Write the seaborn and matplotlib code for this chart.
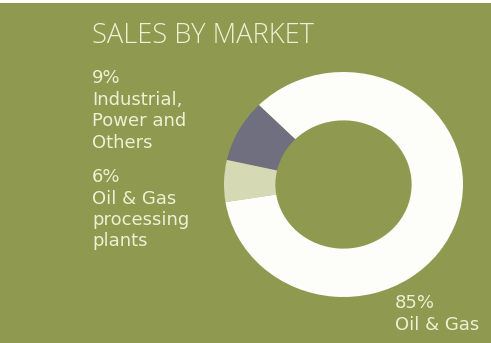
import matplotlib
matplotlib.use("Agg")
import matplotlib.pyplot as plt
import seaborn as sns

# Market split of sales, in percent
segments = ["Industrial, Power and Others", "Oil & Gas processing plants", "Oil & Gas"]
shares = [9, 6, 85]
pcts = ["9%", "6%", "85%"]
label_lines = [["Industrial,", "Power and", "Others"],
               ["Oil & Gas", "processing", "plants"],
               ["Oil & Gas"]]
title = "SALES BY MARKET"

sns.set_theme(style="white")
plt.rcParams["font.family"] = ["Open Sans", "DejaVu Sans"]

BG = "#8f9a50"
TXT = "#eef0d4"
colors = ["#6f6f80", "#d5dab4", "#fdfdf9"]

W, H = 491, 343
fig = plt.figure(figsize=(W / 100, H / 100), dpi=100, facecolor="white")

# olive panel behind everything, with a thin pale strip at the top
panel = fig.add_axes([0, 0, 1, (H - 3) / H])
panel.set_axis_off()
panel.add_patch(plt.Rectangle((0, 0), 1, 1, transform=panel.transAxes,
                              facecolor=BG, edgecolor="none"))

# donut ring
x0, x1, y0, y1 = 224, 463, 72, 297
ax = fig.add_axes([x0 / W, 1 - y1 / H, (x1 - x0) / W, (y1 - y0) / H])
ax.pie(shares, colors=colors, startangle=135, counterclock=True,
       wedgeprops=dict(width=0.43, edgecolor="none", linewidth=0))
ax.set_aspect("auto")
ax.set_xlim(-1, 1)
ax.set_ylim(-1, 1)
ax.set_axis_off()


def fy(py):
    return 1 - py / H


fig.text(92 / W, fy(43), title, color=TXT, fontsize=19.6, fontweight="light",
         va="baseline", ha="left")

step = 21.5
blocks = [(92, 83), (92, 182), (395, 308)]
for (px, base), pct, lines in zip(blocks, pcts, label_lines):
    for i, line in enumerate([pct] + lines):
        fig.text(px / W, fy(base + i * step), line, color=TXT, fontsize=13,
                 family="DejaVu Sans", va="baseline", ha="left")

fig.savefig("out.png", dpi=100, facecolor="white")
